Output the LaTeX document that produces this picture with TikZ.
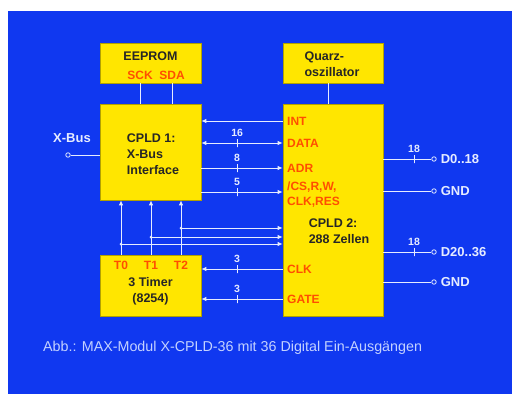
\documentclass[tikz,border=0pt]{standalone}
\usepackage{fontspec}
\setmainfont{Liberation Sans}
\usetikzlibrary{arrows.meta,positioning}
\definecolor{slideblue}{HTML}{1038F0}
\definecolor{chipyellow}{HTML}{FFE600}
\definecolor{pinred}{HTML}{FF4E00}
\definecolor{wirewhite}{HTML}{E6ECFF}
\definecolor{noteblue}{HTML}{C4D2FF}
\tikzset{
  xblock/.style={draw=chipyellow!70!black, fill=chipyellow, line width=0.6pt,
                 inner sep=0pt},
  xtitle/.style={font=\fontsize{12.5}{16}\selectfont\bfseries, text=black!85,
                 align=left, inner sep=0pt},
  xpin/.style={font=\fontsize{12}{15}\selectfont\bfseries, text=pinred,
               align=left, inner sep=0pt},
  xwire/.style={draw=wirewhite, line width=1pt,
                >={Latex[length=5pt,width=4.5pt]}},
  xnum/.style={font=\fontsize{10.5}{12}\selectfont\bfseries, text=wirewhite,
               inner sep=1pt},
  xcut/.style={draw=wirewhite, line width=1pt, minimum width=0pt,
               minimum height=8pt, inner sep=0pt,
               label={[xnum,label distance=0pt]above:#1}},
  xterm/.style={circle, draw=wirewhite, fill=slideblue, line width=0.8pt,
                minimum size=4.5pt, inner sep=0pt},
  xdot/.style={circle, fill=wirewhite, minimum size=3pt, inner sep=0pt},
  xout/.style={font=\fontsize{13}{15}\selectfont\bfseries, text=wirewhite,
               inner sep=0pt},
  xnote/.style={font=\fontsize{14.3}{16}\selectfont, text=noteblue,
                inner sep=0pt, anchor=west},
}
\begin{document}
\begin{tikzpicture}[x=1pt,y=-1pt]
\fill[white] (0,0) rectangle (512,394);
\fill[slideblue] (8,11) rectangle (512,394);
% blocks
\node[xblock,minimum width=101pt,minimum height=40pt] (eeprom) at (150.5,63) {};
\node[xblock,minimum width=100pt,minimum height=40pt] (quarz) at (333,63) {};
\node[xblock,minimum width=101pt,minimum height=96pt] (cpld1) at (150.5,152) {};
\node[xblock,minimum width=100pt,minimum height=212pt] (cpld2) at (333,210) {};
\node[xblock,minimum width=101pt,minimum height=61pt] (timer) at (150.5,285.5) {};
% texts in the blocks
\node[xtitle] (eepromtxt) at (150.5,56) {EEPROM};
\node[xpin] (sck) at (140,75) {SCK};
\node[xpin] (sda) at (172,75) {SDA};
\node[xtitle] (quarztxt) at (332,64) {Quarz-\\oszillator};
\node[xtitle] (cpld1txt) at (153,154) {CPLD 1:\\X-Bus\\Interface};
\node[xtitle] (cpld2txt) at (339,231) {CPLD 2:\\288 Zellen};
\node[xtitle,align=center] (timertxt) at (150.5,291.5) {3 Timer\\(8254)};
\node[xpin] (t0) at (121,265) {T0};
\node[xpin] (t1) at (151,265) {T1};
\node[xpin] (t2) at (181,265) {T2};
\node[xpin,anchor=west] (int) at (287,121) {INT};
\node[xpin,anchor=west] (data) at (287,143) {DATA};
\node[xpin,anchor=west] (adr) at (287,168) {ADR};
\node[xpin,anchor=west] (cs) at (287,195) {/CS,R,W,\\CLK,RES};
\node[xpin,anchor=west] (clk) at (287,269) {CLK};
\node[xpin,anchor=west] (gate) at (287,299) {GATE};
% upper links
\draw[xwire] (sck.south |- eeprom.south) -- (sck.south |- cpld1.north);
\draw[xwire] (sda.south |- eeprom.south) -- (sda.south |- cpld1.north);
\draw[xwire] ([xshift=-5pt]quarz.south) -- ([xshift=-5pt]quarz.south |- cpld2.north);
% buses between the CPLDs
\draw[xwire,<-] (cpld1.east |- int) -- (cpld2.west |- int);
\draw[xwire,<->] (cpld1.east |- data) -- node[xcut=16,pos=0.44] {} (cpld2.west |- data);
\draw[xwire,->] (cpld1.east |- adr) -- node[xcut=8,pos=0.44] {} (cpld2.west |- adr);
\draw[xwire,->] ([yshift=3pt]cpld1.east |- cs) -- node[xcut=5,pos=0.44] {} ([yshift=3pt]cpld2.west |- cs);
% timer outputs
\coordinate (j0) at (121,244);
\coordinate (j1) at (151,237);
\coordinate (j2) at (181,228);
\draw[xwire,->] (t0 |- timer.north) -- (t0 |- cpld1.south);
\draw[xwire,->] (t1 |- timer.north) -- (t1 |- cpld1.south);
\draw[xwire,->] (t2 |- timer.north) -- (t2 |- cpld1.south);
\draw[xwire,->] (j0) -- (cpld2.west |- j0);
\draw[xwire,->] (j1) -- (cpld2.west |- j1);
\draw[xwire,->] (j2) -- (cpld2.west |- j2);
\node[xdot] (j0dot) at (j0) {};
\node[xdot] (j1dot) at (j1) {};
\node[xdot] (j2dot) at (j2) {};
\draw[xwire,<-] (timer.east |- clk) -- node[xcut=3,pos=0.44] {} (cpld2.west |- clk);
\draw[xwire,<-] (timer.east |- gate) -- node[xcut=3,pos=0.44] {} (cpld2.west |- gate);
% X-Bus
\node[xout] (xbuslbl) at (72,138) {X-Bus};
\node[xterm] (xbusterm) at (68,155) {};
\draw[xwire] (xbusterm) -- (cpld1.west |- xbusterm);
% outputs
\node[xterm] (d0term) at (434,159) {};
\node[xterm] (gndaterm) at (434,191) {};
\node[xterm] (d20term) at (434,252) {};
\node[xterm] (gndbterm) at (434,282) {};
\node[xout,right=4pt of d0term] (d0lbl) {D0..18};
\node[xout,right=4pt of gndaterm] (gndalbl) {GND};
\node[xout,right=4pt of d20term] (d20lbl) {D20..36};
\node[xout,right=4pt of gndbterm] (gndblbl) {GND};
\draw[xwire] (cpld2.east |- d0term) -- node[xcut=18,pos=0.64] {} (d0term);
\draw[xwire] (cpld2.east |- gndaterm) -- (gndaterm);
\draw[xwire] (cpld2.east |- d20term) -- node[xcut=18,pos=0.64] {} (d20term);
\draw[xwire] (cpld2.east |- gndbterm) -- (gndbterm);
% caption
\node[xnote] (caption) at (43,348) {Abb.: MAX-Modul X-CPLD-36 mit 36 Digital Ein-Ausgängen};
\end{tikzpicture}
\end{document}
